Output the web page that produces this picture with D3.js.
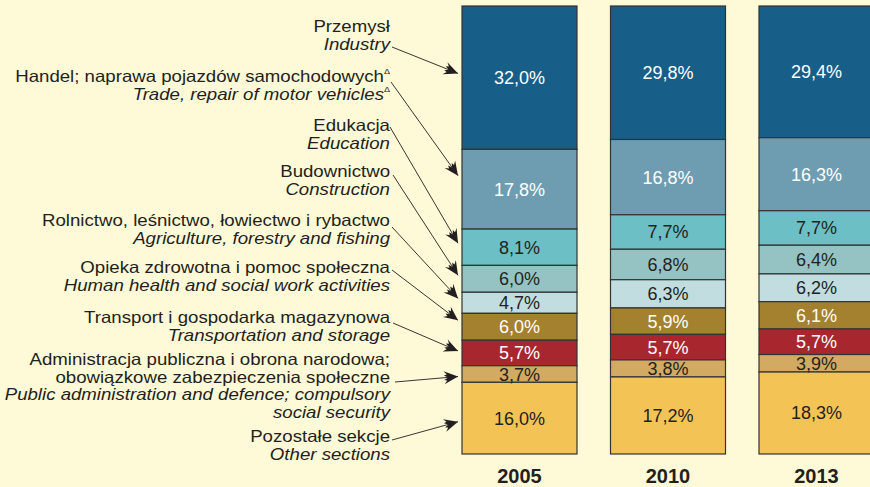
<!DOCTYPE html>
<html>
<head>
<meta charset="utf-8">
<script src="https://cdn.jsdelivr.net/npm/d3@7"></script>
<style>
  body { margin: 0; background: #fef9d6; }
  svg { display: block; font-family: "Liberation Sans", Arial, sans-serif; }
  .lbl { font-size: 16.5px; fill: #231f20; }
  .val { font-size: 18px; }
  .year { font-size: 20px; font-weight: bold; fill: #231f20; }
</style>
</head>
<body>
<svg id="chart"></svg>
<script>
const years = ["2005", "2010", "2013"];

// categories from top of the bar to bottom
const labelsPl = [
  ["Przemysł"],
  ["Handel; naprawa pojazdów samochodowych"],
  ["Edukacja"],
  ["Budownictwo"],
  ["Rolnictwo, leśnictwo, łowiectwo i rybactwo"],
  ["Opieka zdrowotna i pomoc społeczna"],
  ["Transport i gospodarka magazynowa"],
  ["Administracja publiczna i obrona narodowa;", "obowiązkowe zabezpieczenia społeczne"],
  ["Pozostałe sekcje"]
];
const labelsEn = [
  ["Industry"],
  ["Trade, repair of motor vehicles"],
  ["Education"],
  ["Construction"],
  ["Agriculture, forestry and fishing"],
  ["Human health and social work activities"],
  ["Transportation and storage"],
  ["Public administration and defence; compulsory", "social security"],
  ["Other sections"]
];
const footnote = [false, true, false, false, false, false, false, false, false];

const values2005 = [32.0, 17.8, 8.1, 6.0, 4.7, 6.0, 5.7, 3.7, 16.0];
const values2010 = [29.8, 16.8, 7.7, 6.8, 6.3, 5.9, 5.7, 3.8, 17.2];
const values2013 = [29.4, 16.3, 7.7, 6.4, 6.2, 6.1, 5.7, 3.9, 18.3];

const colors = ["#175e88", "#6e9db2", "#6cbfc4", "#95c3c3", "#c1dde0",
                "#a4812e", "#a8272f", "#d3aa62", "#f4c356"];
const textColors = ["#fff", "#fff", "#231f20", "#231f20", "#231f20",
                    "#fff", "#fff", "#231f20", "#231f20"];

// where each arrow hits its segment in the 2005 bar (fraction from segment top)
const arrowFrac = [0.47, 0.33, 0.39, 0.37, 0.29, 0.26, 0.42, 0.65, 0.55];
// first baseline of each label block
const labelY = [32, 82, 131, 177, 226, 273, 323, 365, 442];
const arrowStart = [[392, 47], [391, 82], [390, 127], [393, 175], [392, 227],
                    [392, 270], [393, 323], [395, 382], [392, 440]];

const W = 870, H = 487;
const LINE_H = 17.5;
const LABEL_X = 390;
const STRETCH = 1.13; // label type in the original is set a little wide

const svg = d3.select("#chart").attr("width", W).attr("height", H);

const series = [values2005, values2010, values2013];

const x = d3.scaleBand()
  .domain(years)
  .range([462, 874])
  .paddingInner(0.2256)
  .paddingOuter(0);

const y = d3.scaleLinear()
  .domain([0, 100])
  .range([6, 454]);

svg.append("defs").append("marker")
  .attr("id", "arrow")
  .attr("viewBox", "-15 -7 17 14")
  .attr("refX", 0)
  .attr("refY", 0)
  .attr("markerWidth", 17)
  .attr("markerHeight", 14)
  .attr("markerUnits", "userSpaceOnUse")
  .attr("orient", "auto")
  .append("path")
  .attr("d", "M0,0L-14,-6.5L-11,-3L-14,-2.2L-10,0L-14,2.2L-11,3L-14,6.5Z")
  .attr("fill", "#231f20");

// bars
years.forEach((yr, i) => {
  const vals = series[i];
  let cum = 0;
  const segs = vals.map((v, k) => {
    const s = {k, v, y0: cum, y1: cum + v};
    cum += v;
    return s;
  });
  const g = svg.append("g");
  g.selectAll("rect")
    .data(segs)
    .join("rect")
    .attr("x", x(yr))
    .attr("width", x.bandwidth())
    .attr("y", d => y(d.y0))
    .attr("height", d => y(d.y1) - y(d.y0))
    .attr("fill", d => colors[d.k])
    .attr("stroke", "#333")
    .attr("stroke-width", 1.2);
  g.selectAll("text")
    .data(segs)
    .join("text")
    .attr("class", "val")
    .attr("x", x(yr) + x.bandwidth() / 2)
    .attr("y", d => (y(d.y0) + y(d.y1)) / 2)
    .attr("dy", "0.36em")
    .attr("text-anchor", "middle")
    .attr("fill", d => textColors[d.k])
    .text(d => d3.format(".1f")(d.v).replace(".", ",") + "%");

  svg.append("text")
    .attr("class", "year")
    .attr("x", x(yr) + x.bandwidth() / 2)
    .attr("y", 483)
    .attr("text-anchor", "middle")
    .text(yr);
});

// labels
labelsPl.forEach((pl, k) => {
  const lines = pl.map(t => ({t, it: false})).concat(labelsEn[k].map(t => ({t, it: true})));
  lines.forEach((ln, j) => {
    const t = svg.append("text")
      .attr("class", "lbl")
      .attr("transform", `translate(${LABEL_X},${labelY[k] + j * LINE_H}) scale(${STRETCH},1)`)
      .attr("text-anchor", "end")
      .style("font-style", ln.it ? "italic" : null);
    t.append("tspan").text(ln.t);
    if (footnote[k]) {
      t.append("tspan")
        .attr("font-size", "8px")
        .attr("dy", "-8")
        .attr("font-style", "normal")
        .text("\u0394");
    }
  });
});

// arrows from labels to 2005 segments
let cum = 0;
values2005.forEach((v, k) => {
  const ty = y(cum + v * arrowFrac[k]);
  cum += v;
  svg.append("line")
    .attr("x1", arrowStart[k][0])
    .attr("y1", arrowStart[k][1])
    .attr("x2", x(years[0]) - 4)
    .attr("y2", ty)
    .attr("stroke", "#231f20")
    .attr("stroke-width", 0.9)
    .attr("marker-end", "url(#arrow)");
});
</script>
</body>
</html>
